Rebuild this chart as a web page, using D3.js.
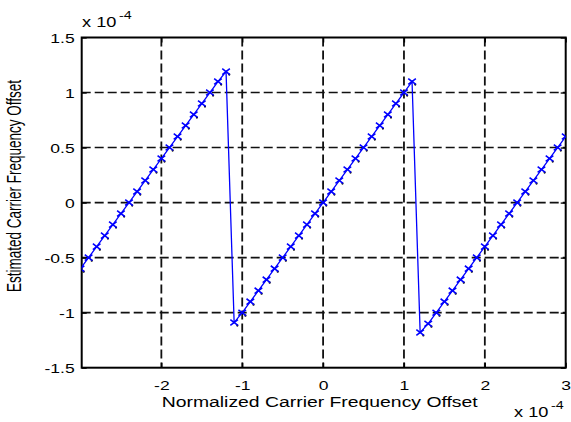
<!DOCTYPE html>
<html>
<head>
<meta charset="utf-8">
<script src="https://cdn.jsdelivr.net/npm/d3@7"></script>
<style>
  body { margin: 0; background: #fff; }
  text { font-family: "Liberation Sans", Arial, sans-serif; fill: #000; }
</style>
</head>
<body>
<div id="chart"></div>
<script>
// normalized CFO (x 1e-4) and the estimated CFO (x 1e-4)
const cfoTrue = [-3.0, -2.9, -2.8, -2.7, -2.6, -2.5, -2.4, -2.3, -2.2, -2.1,
  -2.0, -1.9, -1.8, -1.7, -1.6, -1.5, -1.4, -1.3, -1.2,
  -1.1, -1.0, -0.9, -0.8, -0.7, -0.6, -0.5, -0.4, -0.3, -0.2, -0.1,
  0.0, 0.1, 0.2, 0.3, 0.4, 0.5, 0.6, 0.7, 0.8, 0.9, 1.0, 1.1,
  1.2, 1.3, 1.4, 1.5, 1.6, 1.7, 1.8, 1.9, 2.0,
  2.1, 2.2, 2.3, 2.4, 2.5, 2.6, 2.7, 2.8, 2.9, 3.0];
const cfoEst = [-0.6, -0.5, -0.4, -0.3, -0.2, -0.1, 0.0, 0.1, 0.2, 0.3,
  0.4, 0.5, 0.6, 0.7, 0.8, 0.9, 1.0, 1.1, 1.19,
  -1.09, -1.0, -0.9, -0.8, -0.7, -0.6, -0.5, -0.4, -0.3, -0.2, -0.1,
  0.0, 0.1, 0.2, 0.3, 0.4, 0.5, 0.6, 0.7, 0.8, 0.9, 1.0, 1.1,
  -1.18, -1.1, -1.0, -0.9, -0.8, -0.7, -0.6, -0.5, -0.4,
  -0.3, -0.2, -0.1, 0.0, 0.1, 0.2, 0.3, 0.4, 0.5, 0.6];
const xTicks = [-2, -1, 0, 1, 2, 3];
const yTicks = [-1.5, -1, -0.5, 0, 0.5, 1, 1.5];
const xLabel = "Normalized Carrier Frequency Offset";
const yLabel = "Estimated Carrier Frequency Offset";

const W = 571, H = 422;
const m = { left: 81.7, top: 37.5, right: 571 - 565.7, bottom: 422 - 367.7 };
const iw = W - m.left - m.right, ih = H - m.top - m.bottom;
const sx = 1.3; // the picture is stretched horizontally

const x = d3.scaleLinear().domain([-2.985, 3]).range([0, iw]);
const y = d3.scaleLinear().domain([-1.5, 1.5]).range([ih, 0]);

const svg = d3.select("#chart").append("svg")
  .attr("width", W).attr("height", H);

svg.append("defs").append("clipPath").attr("id", "clip")
  .append("rect").attr("width", iw).attr("height", ih);

const g = svg.append("g").attr("transform", `translate(${m.left},${m.top})`);

// grid
g.selectAll(".vgrid").data(xTicks.filter(d => d < 3)).join("line")
  .attr("x1", d => x(d)).attr("x2", d => x(d)).attr("y1", 0).attr("y2", ih)
  .attr("stroke", "#111").attr("stroke-width", 1.8).attr("stroke-dasharray", "9,4");
g.selectAll(".hgrid").data(yTicks.filter(d => d > -1.5 && d < 1.5)).join("line")
  .attr("y1", d => y(d)).attr("y2", d => y(d)).attr("x1", 0).attr("x2", iw)
  .attr("stroke", "#111").attr("stroke-width", 1.6).attr("stroke-dasharray", "9,4");

const fmt = d => String(d); // plain hyphen minus, as in the original

// axes (ticks inside)
const xAx = g.append("g").attr("transform", `translate(0,${ih})`)
  .call(d3.axisBottom(x).tickValues(xTicks).tickSizeInner(-5).tickSizeOuter(0).tickFormat(fmt));
const yAx = g.append("g")
  .call(d3.axisLeft(y).tickValues(yTicks).tickSizeInner(-5).tickSizeOuter(0).tickFormat(fmt));
g.append("g").call(d3.axisTop(x).tickValues(xTicks).tickSizeInner(-5).tickSizeOuter(0).tickFormat(""));
g.append("g").attr("transform", `translate(${iw},0)`)
  .call(d3.axisRight(y).tickValues(yTicks).tickSizeInner(-5).tickSizeOuter(0).tickFormat(""));
g.selectAll(".domain").remove();
g.selectAll(".tick line").attr("stroke", "#000").attr("stroke-width", 1.3);

xAx.selectAll(".tick text")
  .attr("font-size", 13.5).attr("y", 22).attr("dy", 0)
  .attr("transform", `scale(${sx},1)`);
yAx.selectAll(".tick text")
  .attr("font-size", 13.5).attr("x", -7 / sx).attr("dy", "0.36em")
  .attr("text-anchor", "end")
  .attr("transform", `scale(${sx},1)`);

// box
g.append("rect").attr("width", iw).attr("height", ih)
  .attr("fill", "none").attr("stroke", "#000").attr("stroke-width", 2);

// data
const plot = g.append("g").attr("clip-path", "url(#clip)");
const pts = cfoTrue.map((d, i) => [d, cfoEst[i]]);

const cross = (dx, dy) => `M${-dx},${-dy}L${dx},${dy}M${-dx},${dy}L${dx},${-dy}`;

// black reference markers peeking out behind the blue ones
plot.selectAll(".mk2").data(pts).join("circle")
  .attr("cx", d => x(d[0]) + 3.2).attr("cy", d => y(d[1]) + 3)
  .attr("r", 1.1).attr("fill", "#000");

plot.append("path").datum(pts)
  .attr("d", d3.line().x(d => x(d[0])).y(d => y(d[1])))
  .attr("fill", "none").attr("stroke", "#0000ff").attr("stroke-width", 1.3);

plot.selectAll(".mk").data(pts).join("path")
  .attr("transform", d => `translate(${x(d[0])},${y(d[1])})`)
  .attr("d", cross(3.8, 2.9))
  .attr("stroke", "#0000ff").attr("stroke-width", 1.6).attr("fill", "none");

// labels
svg.append("text")
  .attr("x", 161.7).attr("y", 407)
  .attr("font-size", 15.5)
  .attr("textLength", 316).attr("lengthAdjust", "spacingAndGlyphs")
  .text(xLabel);

svg.append("text")
  .attr("transform", `translate(21,186) scale(${sx},1) rotate(-90)`)
  .attr("text-anchor", "middle")
  .attr("font-size", 15)
  .attr("textLength", 212).attr("lengthAdjust", "spacingAndGlyphs")
  .text(yLabel);

// exponent markers
function expo(px, py) {
  const t = svg.append("g").attr("transform", `translate(${px},${py}) scale(${sx},1)`);
  t.append("text").attr("font-size", 14).text("x 10");
  t.append("text").attr("x", 28.5).attr("y", -8).attr("font-size", 11).text("-4");
}
expo(82, 27);
expo(514, 417);
</script>
</body>
</html>
